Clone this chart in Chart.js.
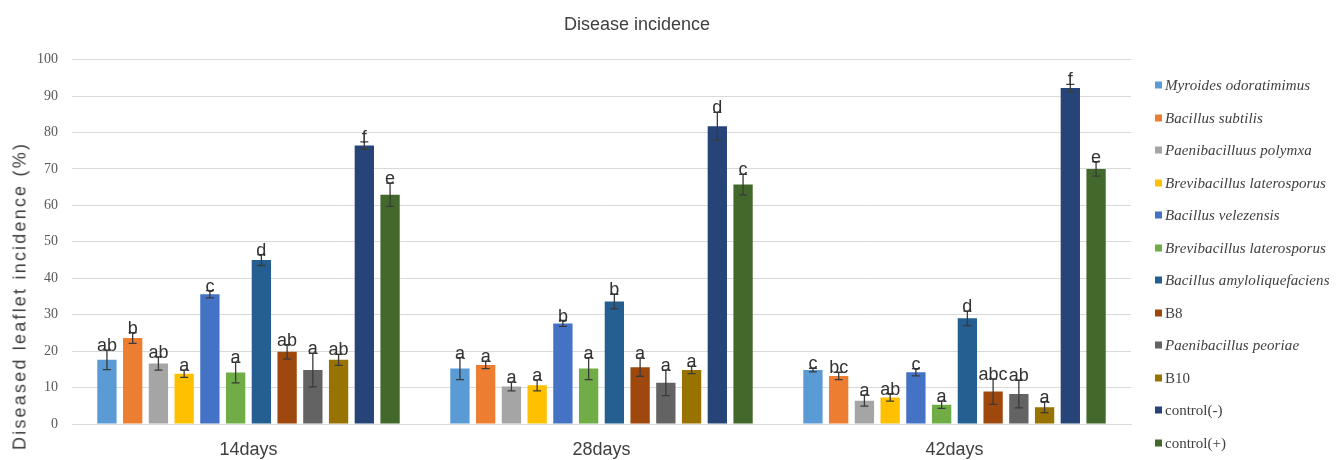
<!DOCTYPE html>
<html>
<head>
<meta charset="utf-8">
<script src="https://cdn.jsdelivr.net/npm/chart.js@4/dist/chart.umd.min.js"></script>
<style>
  html, body { margin: 0; padding: 0; background: #fff; }
  #wrap { position: relative; width: 1341px; height: 460px; overflow: hidden; }
  #chart { position: absolute; left: 0; top: 0; }
  #ytitle {
    position: absolute; left: 20px; top: 296px;
    transform: translate(-50%, -50%) rotate(-90deg);
    white-space: nowrap; font: 18px "Liberation Sans", Arial, sans-serif;
    letter-spacing: 2.2px; color: #404040;
  }
  #legend { position: absolute; left: 1155px; top: 0; }
  .item {
    position: absolute; left: 0; white-space: nowrap;
    font: 15px "Liberation Serif", "Times New Roman", serif; color: #404040;
    transform: translateY(-50%); display: flex; align-items: center;
  }
  .item i.sw { display: inline-block; width: 7px; height: 7px; margin-right: 3px; }
  .item.it span { font-style: italic; letter-spacing: 0.1px; }
</style>
</head>
<body>
<div id="wrap">
  <canvas id="chart" width="1274" height="460"></canvas>
  <div id="ytitle">Diseased leaflet incidence (%)</div>
  <div id="legend"></div>
</div>
<script>
// Disease incidence – grouped bars with SE bars and letters
const groups = ['14days', '28days', '42days'];

const seriesNames = [
  'Myroides odoratimimus', 'Bacillus subtilis', 'Paenibacilluus polymxa',
  'Brevibacillus laterosporus', 'Bacillus velezensis', 'Brevibacillus laterosporus',
  'Bacillus amyloliquefaciens', 'B8', 'Paenibacillus peoriae', 'B10',
  'control(-)', 'control(+)'
];
const italicNames = [true, true, true, true, true, true, true, false, true, false, false, false];
const colors = ['#5B9BD5', '#ED7D31', '#A5A5A5', '#FFC000', '#4472C4', '#70AD47',
                '#255E91', '#9E480E', '#636363', '#997300', '#264478', '#43682B'];

const values14 = [17.6, 23.6, 16.6, 13.8, 35.6, 14.1, 45.0, 19.8, 14.8, 17.6, 76.4, 62.9];
const values28 = [15.2, 16.2, 10.3, 10.6, 27.6, 15.2, 33.6, 15.6, 11.3, 14.8, 81.7, 65.7];
const values42 = [14.8, 13.2, 6.4, 7.3, 14.2, 5.3, 29.0, 8.9, 8.2, 4.6, 92.2, 70.0];

const err14 = [2.7, 1.5, 1.8, 1.0, 1.0, 2.8, 1.5, 2.0, 4.6, 1.5, 1.0, 3.2];
const err28 = [3.0, 1.0, 1.2, 1.5, 0.8, 3.0, 2.0, 2.5, 3.5, 1.0, 3.8, 2.8];
const err42 = [0.5, 1.0, 1.5, 1.0, 1.0, 1.0, 2.0, 3.5, 3.8, 1.5, 1.0, 2.0];

const letters14 = ['ab', 'b', 'ab', 'a', 'c', 'a', 'd', 'ab', 'a', 'ab', 'f', 'e'];
const letters28 = ['a', 'a', 'a', 'a', 'b', 'a', 'b', 'a', 'a', 'a', 'd', 'c'];
const letters42 = ['c', 'bc', 'a', 'ab', 'c', 'a', 'd', 'abc', 'ab', 'a', 'f', 'e'];

const yTicks = [0, 10, 20, 30, 40, 50, 60, 70, 80, 90, 100];

const allValues = [values14, values28, values42];
const allErr = [err14, err28, err42];
const allLetters = [letters14, letters28, letters42];

const datasets = seriesNames.map((name, s) => ({
  label: name,
  data: allValues.map(v => v[s]),
  errors: allErr.map(e => e[s]),
  letters: allLetters.map(l => l[s]),
  backgroundColor: colors[s],
  borderWidth: 0,
  categoryPercentage: 0.875,
  barPercentage: 0.75
}));

// error bars + significance letters
const errorBarPlugin = {
  id: 'errorBars',
  afterDatasetsDraw(chart) {
    const ctx = chart.ctx;
    const y = chart.scales.y;
    ctx.save();
    chart.data.datasets.forEach((ds, i) => {
      const meta = chart.getDatasetMeta(i);
      meta.data.forEach((bar, j) => {
        const v = ds.data[j], e = ds.errors[j];
        const top = y.getPixelForValue(v + e);
        const bot = y.getPixelForValue(v - e);
        ctx.strokeStyle = '#3a3a3a';
        ctx.lineWidth = 1.3;
        ctx.beginPath();
        ctx.moveTo(bar.x, top); ctx.lineTo(bar.x, bot);
        ctx.moveTo(bar.x - 4, top); ctx.lineTo(bar.x + 4, top);
        ctx.moveTo(bar.x - 4, bot); ctx.lineTo(bar.x + 4, bot);
        ctx.stroke();
        ctx.fillStyle = '#333';
        ctx.font = '18px "Liberation Sans", Arial, sans-serif';
        ctx.textAlign = 'center';
        ctx.textBaseline = 'alphabetic';
        ctx.fillText(ds.letters[j], bar.x, top + 1);
      });
    });
    ctx.restore();
  }
};

new Chart(document.getElementById('chart'), {
  type: 'bar',
  data: { labels: groups, datasets },
  options: {
    responsive: false,
    animation: false,
    layout: { padding: { left: 0, right: 0, top: 0, bottom: 0 } },
    plugins: {
      legend: { display: false },
      tooltip: { enabled: false },
      title: {
        display: true,
        text: 'Disease incidence',
        color: '#404040',
        font: { family: '"Liberation Sans", Arial, sans-serif', size: 18, weight: 'normal' },
        padding: { top: 14, bottom: 24 }
      }
    },
    scales: {
      x: {
        grid: { display: false },
        border: { display: true, color: '#d9d9d9' },
        ticks: {
          color: '#404040', padding: 7,
          font: { family: '"Liberation Sans", Arial, sans-serif', size: 18 }
        },
        afterFit: s => { s.height = 36; }
      },
      y: {
        min: 0, max: 100,
        afterBuildTicks: s => { s.ticks = yTicks.map(v => ({ value: v })); },
        grid: { color: '#d9d9d9', drawTicks: false },
        border: { display: false },
        ticks: {
          color: '#595959', padding: 14,
          font: { family: '"Liberation Serif", "Times New Roman", serif', size: 14 }
        },
        afterFit: s => { s.width = 72; }
      },
      pad: {
        position: 'right',
        display: true,
        grid: { display: false, drawTicks: false },
        border: { display: false },
        ticks: { display: false },
        afterFit: s => { s.width = 143; }
      }
    }
  },
  plugins: [errorBarPlugin]
});

// legend as html so names can be italic one by one
const legend = document.getElementById('legend');
seriesNames.forEach((name, s) => {
  const d = document.createElement('div');
  d.className = 'item' + (italicNames[s] ? ' it' : '');
  d.style.top = (85 + 32.5 * s) + 'px';
  d.innerHTML = '<i class="sw" style="background:' + colors[s] + '"></i><span></span>';
  d.querySelector('span').textContent = name;
  legend.appendChild(d);
});
</script>
</body>
</html>
